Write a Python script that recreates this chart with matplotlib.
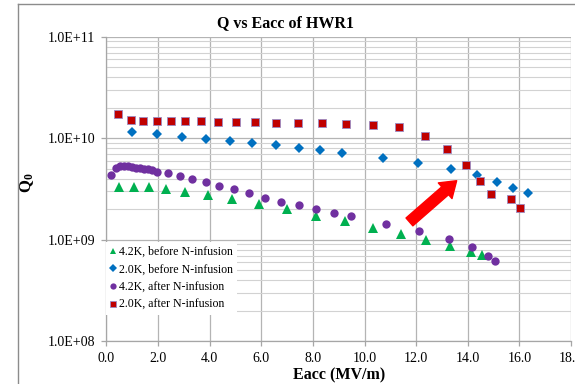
import matplotlib
matplotlib.use("Agg")
import matplotlib.pyplot as plt
from matplotlib.lines import Line2D
from matplotlib.ticker import FixedLocator, FuncFormatter, LogLocator, NullFormatter

plt.rcParams['font.family'] = ['Liberation Serif', 'DejaVu Serif']
plt.rcParams['mathtext.fontset'] = 'custom'
plt.rcParams['mathtext.rm'] = 'Liberation Serif'
plt.rcParams['mathtext.bf'] = 'Liberation Serif:bold'

# Q0 vs accelerating gradient for HWR1
eacc_42k_before = [0.50, 1.05, 1.65, 2.29, 3.04, 3.92, 4.85, 5.91, 6.98, 8.12,
                   9.24, 10.34, 11.40, 12.37, 13.31, 14.13, 14.54]
q0_42k_before = [3.33e9, 3.29e9, 3.29e9, 3.15e9, 2.96e9, 2.78e9, 2.52e9, 2.25e9,
                 2.03e9, 1.73e9, 1.52e9, 1.31e9, 1.13e9, 9.9e8, 8.7e8, 7.6e8, 7.1e8]

eacc_20k_before = [1.00, 1.97, 2.94, 3.87, 4.78, 5.63, 6.56, 7.45, 8.29, 9.13,
                   10.70, 12.09, 13.36, 14.36, 15.14, 15.77, 16.33]
q0_20k_before = [1.16e10, 1.09e10, 1.04e10, 9.9e9, 9.47e9, 8.9e9, 8.53e9, 8.08e9,
                 7.67e9, 7.21e9, 6.35e9, 5.67e9, 4.99e9, 4.32e9, 3.73e9, 3.26e9, 2.91e9]

eacc_42k_after = [0.17, 0.36, 0.52, 0.69, 0.85, 1.00, 1.16, 1.31, 1.47, 1.62,
                  1.78, 1.95, 2.38, 2.84, 3.31, 3.84, 4.36, 4.93, 5.52, 6.16,
                  6.78, 7.45, 8.12, 8.81, 9.48, 10.83, 12.12, 13.26, 14.15, 14.80, 15.06]
q0_42k_after = [4.35e9, 5.06e9, 5.30e9, 5.33e9, 5.30e9, 5.21e9, 5.13e9, 5.06e9,
                4.98e9, 4.95e9, 4.84e9, 4.69e9, 4.55e9, 4.25e9, 4.00e9, 3.71e9,
                3.41e9, 3.14e9, 2.87e9, 2.60e9, 2.37e9, 2.19e9, 2.01e9, 1.84e9,
                1.71e9, 1.44e9, 1.21e9, 1.02e9, 8.4e8, 6.9e8, 6.2e8]

eacc_20k_after = [0.46, 0.94, 1.43, 1.95, 2.49, 3.05, 3.66, 4.32, 5.02, 5.75,
                  6.58, 7.43, 8.35, 9.29, 10.32, 11.33, 12.33, 13.20, 13.95,
                  14.48, 14.90, 15.69, 16.04]
q0_20k_after = [1.73e10, 1.51e10, 1.49e10, 1.49e10, 1.48e10, 1.48e10, 1.49e10,
                1.46e10, 1.46e10, 1.44e10, 1.43e10, 1.42e10, 1.42e10, 1.38e10,
                1.34e10, 1.28e10, 1.05e10, 7.8e9, 5.46e9, 3.82e9, 2.84e9, 2.52e9, 2.06e9]

series_labels = ["4.2K, before N-infusion", "2.0K, before N-infusion",
                 "4.2K, after N-infusion", "2.0K, after N-infusion"]

x_ticks = [0, 2, 4, 6, 8, 10, 12, 14, 16, 18]
y_ticks = [1e8, 1e9, 1e10, 1e11]

# arrow marking the improvement after N-infusion
arrow_tail = (11.74, 1.50e9)
arrow_head = (13.57, 3.82e9)

fig = plt.figure(figsize=(5.75, 3.84), dpi=100)
ax = fig.add_axes([0.1852, 0.1112, 0.8078, 0.7930])

ax.set_yscale('log')
ax.set_xlim(0, 18)
ax.set_ylim(1e8, 1e11)

ax.plot(eacc_42k_before, q0_42k_before, linestyle='none', marker='^', markersize=6.5,
        color='#00B050', markeredgewidth=0, label=series_labels[0])
ax.plot(eacc_20k_before, q0_20k_before, linestyle='none', marker='D', markersize=5.2,
        color='#0070C0', markeredgewidth=0, label=series_labels[1])
ax.plot(eacc_42k_after, q0_42k_after, linestyle='none', marker='o', markersize=6,
        color='#7030A0', markeredgewidth=0, label=series_labels[2])
ax.plot(eacc_20k_after, q0_20k_after, linestyle='none', marker='s', markersize=5.4,
        markerfacecolor='#C00000', markeredgecolor='#9B8BC4', markeredgewidth=0.6,
        label=series_labels[3])

ax.annotate('', xy=arrow_head, xytext=arrow_tail,
            arrowprops=dict(arrowstyle='simple,head_length=1.1,head_width=1.5,tail_width=0.75',
                            color='#FF0000', shrinkA=0, shrinkB=0, mutation_scale=10))

# axes, ticks and grid
ax.xaxis.set_major_locator(FixedLocator(x_ticks))
ax.xaxis.set_major_formatter(FuncFormatter(lambda v, p: f"{v:.1f}"))
ax.yaxis.set_major_locator(FixedLocator(y_ticks))
ax.yaxis.set_major_formatter(FuncFormatter(lambda v, p: f"{v:.1E}"))
ax.yaxis.set_minor_locator(LogLocator(base=10, subs=range(2, 10)))
ax.yaxis.set_minor_formatter(NullFormatter())

ax.grid(True, which='major', axis='both', color='#B4B4B4', linewidth=0.9)
ax.grid(True, which='minor', axis='y', color='#D2D2D2', linewidth=0.8)
ax.set_axisbelow(True)

for side in ('top', 'right'):
    ax.spines[side].set_visible(False)
for side in ('left', 'bottom'):
    ax.spines[side].set_color('#A6A6A6')
    ax.spines[side].set_linewidth(0.9)

ax.tick_params(axis='both', which='major', labelsize=10, length=3.5, width=0.9,
               color='#A6A6A6', direction='out')
ax.tick_params(axis='y', which='major', pad=4.5)
ax.tick_params(axis='x', which='major', pad=4)
ax.tick_params(axis='y', which='minor', length=0)

ax.set_xlabel('Eacc (MV/m)', fontsize=11.5, fontweight='bold', labelpad=2)
ax.set_ylabel(r'$\mathbf{Q_0}$', fontsize=12)
ax.yaxis.set_label_coords(-0.152, 0.52)

fig.text(0.496, 0.918, 'Q vs Eacc of HWR1', ha='center', va='bottom',
         fontsize=11.5, fontweight='bold')

leg = ax.legend(loc='upper left', bbox_to_anchor=(0.0, 0.325), fontsize=8.6,
                frameon=True, fancybox=False, edgecolor='none', framealpha=1,
                handlelength=0.5, handletextpad=0.25, labelspacing=0.48,
                borderpad=0.3, borderaxespad=0.0, markerscale=0.75)

# outer chart border
fig.add_artist(Line2D([18 / 575, 18 / 575], [0, 1 - 4 / 384], transform=fig.transFigure,
                      color='#8C8C8C', linewidth=1.0))
fig.add_artist(Line2D([18 / 575, 1], [1 - 4 / 384, 1 - 4 / 384], transform=fig.transFigure,
                      color='#8C8C8C', linewidth=1.0))

fig.savefig('out.png', dpi=100)
